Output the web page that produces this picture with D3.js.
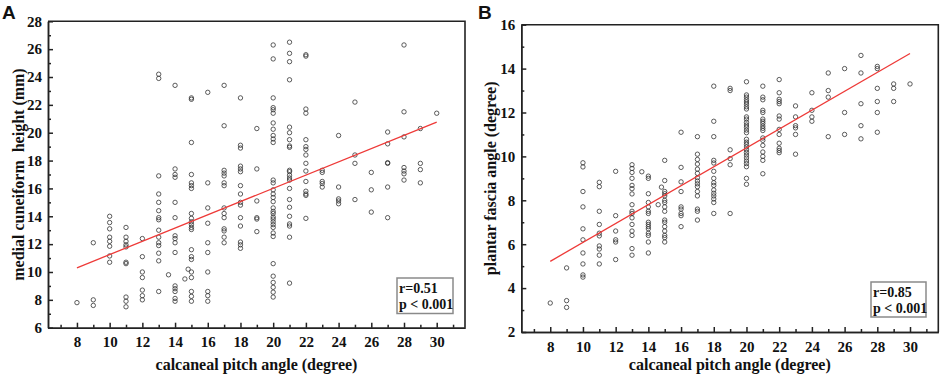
<!DOCTYPE html>
<html>

<head>
  <meta charset="utf-8" />
  <title>Pitch angle scatter</title>
  <style>
    body {
      margin: 0;
      background: #fff;
    }

    .dot {
      fill: none;
      stroke: #333;
      stroke-width: 0.8px;
    }

    .fit {
      stroke: #ee3a38;
      stroke-width: 1.3px;
      fill: none;
    }

    .axis path,
    .axis line {
      fill: none;
      stroke: #222;
      stroke-width: 1.5px;
    }

    .axis text {
      font-family: "Liberation Serif", "Times New Roman", serif;
      font-weight: bold;
      font-size: 15px;
      fill: #111;
    }

    .title {
      font-family: "Liberation Serif", "Times New Roman", serif;
      font-weight: bold;
      font-size: 16px;
      fill: #111;
    }

    .stat {
      font-family: "Liberation Serif", "Times New Roman", serif;
      font-weight: bold;
      font-size: 14px;
      fill: #111;
    }

    .letter {
      font-family: "Liberation Sans", Arial, sans-serif;
      font-weight: bold;
      font-size: 19px;
      fill: #111;
    }
  </style>
  <script src="https://cdnjs.cloudflare.com/ajax/libs/d3/7.8.5/d3.min.js"></script>
</head>

<body>
  <div id="chartArea"></div>
  <script>
    // panel A: calcaneal pitch angle vs medial cuneiform height
    var pitchA = [8, 9, 10, 11, 12, 13, 13.6, 14, 14.6, 14.8, 15, 16, 17, 18, 19, 20, 21, 22, 23, 24, 25, 26, 27, 28, 29, 30];
    var heightA = [
      [7.8],
      [12.1, 8.0, 7.6],
      [14.0, 13.55, 13.1, 12.5, 12.2, 11.85, 11.15, 10.7],
      [13.2, 12.5, 12.2, 11.95, 11.8, 10.7, 10.6, 8.2, 7.9, 7.5],
      [12.4, 11.1, 10.0, 9.6, 8.7, 8.3, 8.0],
      [24.2, 23.9, 16.9, 15.6, 15.0, 14.4, 13.9, 13.75, 13.0, 12.5, 12.1, 11.9, 11.35, 10.8, 8.6],
      [9.8],
      [23.4, 17.4, 17.0, 16.8, 15.0, 13.9, 12.6, 12.4, 12.1, 11.4, 9.0, 8.8, 8.6, 8.1, 7.9],
      [9.5],
      [10.2],
      [22.5, 22.4, 19.3, 17.0, 16.4, 16.2, 16.0, 14.2, 13.85, 13.6, 13.4, 13.2, 13.05, 11.6, 11.1, 10.9, 10.0, 9.6, 8.6, 8.25, 7.9],
      [22.9, 16.4, 14.6, 13.5, 12.1, 11.4, 10.0, 8.6, 8.3, 7.9],
      [23.4, 20.5, 17.3, 17.1, 16.9, 16.4, 16.2, 14.6, 14.2, 13.9, 13.1, 12.95, 12.5, 12.1],
      [22.5, 19.1, 18.9, 17.6, 17.4, 17.2, 16.2, 15.6, 15.0, 14.8, 13.9, 13.3, 12.15, 11.95, 11.7],
      [20.3, 17.4, 15.1, 13.9, 13.8, 12.9],
      [26.3, 25.3, 22.5, 21.8, 21.65, 21.4, 20.7, 20.25, 19.8, 19.55, 19.3, 16.6, 16.4, 15.9, 15.6, 15.35, 15.05, 14.6, 14.35, 14.2, 13.95, 13.8, 13.6, 13.4, 13.2, 12.8, 12.55, 10.6, 9.7, 9.25, 8.9, 8.55, 8.2],
      [26.5, 25.7, 25.1, 23.8, 20.4, 20.0, 19.5, 19.05, 18.95, 17.3, 17.2, 16.95, 16.75, 16.6, 16.0, 15.2, 14.65, 14.0, 13.45, 13.3, 12.5, 9.2],
      [25.6, 25.5, 21.7, 21.4, 19.5, 19.0, 18.8, 18.4, 17.8, 17.25, 16.5, 15.8, 15.6, 15.5, 13.85],
      [17.3, 17.15, 16.5, 16.35, 16.1],
      [19.8, 16.1, 15.25, 15.1, 14.9],
      [22.2, 18.4, 17.8, 15.2],
      [17.15, 15.9, 14.3],
      [20.05, 19.2, 17.85, 17.8, 16.1, 13.9],
      [26.3, 21.5, 19.7, 17.5, 17.25, 17.05, 16.6],
      [20.3, 17.8, 17.35, 16.4],
      [21.4]
    ];
    var fitA = [[8, 10.3], [30, 20.76]];
    var statsA = ['r=0.51', 'p < 0.001'];

    // panel B: calcaneal pitch angle vs plantar fascia angle
    var pitchB = [8, 9, 10, 11, 12, 13, 13.6, 14, 14.6, 14.8, 15, 16, 17, 18, 19, 20, 21, 22, 23, 24, 25, 26, 27, 28, 29, 30];
    var fasciaB = [
      [3.32],
      [4.92, 3.43, 3.12],
      [9.71, 9.52, 8.4, 7.7, 6.7, 6.2, 5.6, 5.1, 4.6, 4.5],
      [8.82, 8.62, 7.5, 6.9, 6.5, 6.38, 5.92, 5.78, 5.5, 5.1],
      [9.32, 7.3, 6.6, 6.2, 6.1, 5.3],
      [9.62, 9.45, 9.27, 9.0, 8.68, 8.53, 8.29, 7.8, 7.5, 7.4, 7.2, 6.9, 6.6, 6.4, 5.8, 5.5],
      [9.3],
      [9.1, 9.0, 8.3, 7.9, 7.7, 7.5, 7.4, 7.0, 6.9, 6.8, 6.7, 6.5, 6.4, 6.1, 5.6],
      [7.8],
      [8.6],
      [9.82, 8.9, 8.4, 8.3, 8.2, 8.0, 7.9, 7.7, 7.5, 7.1, 7.0, 6.8, 6.6, 6.4, 6.3, 6.1],
      [11.1, 9.5, 8.84, 8.4, 7.7, 7.6, 7.4, 7.3, 6.8],
      [10.9, 10.1, 9.86, 9.65, 9.42, 9.23, 9.03, 8.88, 8.75, 8.62, 8.4, 8.2, 7.6, 7.5, 7.1],
      [13.2, 11.6, 10.9, 9.82, 9.7, 9.32, 9.0, 8.8, 8.68, 8.47, 8.32, 8.2, 8.06, 7.9, 7.4],
      [13.1, 13.0, 10.3, 9.9, 9.62, 7.4],
      [13.4, 12.8, 12.7, 12.58, 12.48, 12.38, 12.26, 12.16, 11.8, 11.7, 11.55, 11.43, 11.33, 11.2, 11.08, 10.78, 10.65, 10.55, 10.43, 10.3, 10.18, 10.06, 9.93, 9.79, 9.67, 9.53, 9.0, 8.73],
      [13.2, 12.7, 12.58, 12.1, 12.0, 11.7, 11.6, 11.5, 11.38, 11.28, 11.18, 10.84, 10.73, 10.5, 10.2, 10.0, 9.82, 9.21],
      [13.5, 12.9, 12.6, 12.5, 12.4, 11.84, 11.7, 11.23, 11.0, 10.6, 10.37, 10.27, 10.17],
      [12.3, 11.8, 11.4, 11.3, 11.0, 10.1],
      [12.9, 12.1, 11.8, 11.6],
      [13.8, 13.0, 12.7, 10.9],
      [14.0, 12.0, 11.0],
      [14.6, 13.8, 12.4, 11.4, 10.8],
      [14.1, 14.0, 13.1, 12.5, 12.0, 11.1],
      [13.3, 13.1, 12.5],
      [13.3]
    ];
    var fitB = [[8, 5.22], [30, 14.69]];
    var statsB = ['r=0.85', 'p < 0.001'];

    var xTicks = d3.range(8, 31, 2);
    var xMinor = d3.range(7, 32, 2);

    var svg = d3.select('#chartArea').append('svg')
      .attr('width', 941)
      .attr('height', 379);

    function drawPanel(p) {
      var w = p.right - p.left,
        h = p.bottom - p.top;
      var g = svg.append('g')
        .attr('transform', 'translate(' + p.left + ',' + p.top + ')');

      var xScale = d3.scaleLinear().domain([6.23, 31.73]).range([0, w]);
      var yScale = d3.scaleLinear().domain(p.yDomain).range([h, 0]);

      // minor ticks first so the major axis sits on top
      var xAxisMinor = d3.axisBottom(xScale).tickValues(xMinor).tickSizeInner(-3).tickSizeOuter(0).tickFormat('');
      var yAxisMinor = d3.axisLeft(yScale).tickValues(p.yMinor).tickSizeInner(-3).tickSizeOuter(0).tickFormat('');
      g.append('g').attr('class', 'axis').attr('transform', 'translate(0,' + h + ')').call(xAxisMinor);
      g.append('g').attr('class', 'axis').call(yAxisMinor);

      var xAxis = d3.axisBottom(xScale).tickValues(xTicks).tickSizeInner(-5).tickSizeOuter(0).tickPadding(9);
      var yAxis = d3.axisLeft(yScale).tickValues(p.yTicks).tickSizeInner(-5).tickSizeOuter(0).tickPadding(6);
      g.append('g').attr('class', 'axis').attr('transform', 'translate(0,' + h + ')').call(xAxis);
      g.append('g').attr('class', 'axis').call(yAxis);

      // top and right frame
      g.append('path')
        .attr('d', 'M0,0H' + w + 'V' + h)
        .attr('fill', 'none')
        .attr('stroke', '#222')
        .attr('stroke-width', 1.6);

      var points = p.xs.flatMap((x, i) => p.ys[i].map(y => ({ x: x, y: y })));
      g.selectAll('circle')
        .data(points)
        .enter()
        .append('circle')
        .attr('class', 'dot')
        .attr('cx', d => xScale(d.x))
        .attr('cy', d => yScale(d.y))
        .attr('r', 2.2);

      g.append('path')
        .datum(p.fit)
        .attr('class', 'fit')
        .attr('d', d3.line().x(d => xScale(d[0])).y(d => yScale(d[1])));

      // stats box
      g.append('rect')
        .attr('x', p.box[0] - p.left)
        .attr('y', p.box[1] - p.top)
        .attr('width', p.box[2])
        .attr('height', p.box[3])
        .attr('fill', '#fff')
        .attr('stroke', '#8a8a8a')
        .attr('stroke-width', 1.5);
      g.selectAll('.stat')
        .data(p.stats)
        .enter()
        .append('text')
        .attr('class', 'stat')
        .attr('x', p.box[0] - p.left + 2)
        .attr('y', (d, i) => p.box[1] - p.top + 15 + i * 16)
        .text(d => d);

      svg.append('text')
        .attr('class', 'title')
        .attr('x', p.left + w / 2)
        .attr('y', 370)
        .attr('text-anchor', 'middle')
        .text('calcaneal pitch angle (degree)');

      svg.append('text')
        .attr('class', 'title')
        .attr('xml:space', 'preserve')
        .style('white-space', 'pre')
        .attr('text-anchor', 'middle')
        .attr('transform', 'translate(' + p.yTitleX + ',' + (p.top + h / 2) + ') rotate(-90)')
        .text(p.yTitle);

      svg.append('text')
        .attr('class', 'letter')
        .attr('x', p.letterX)
        .attr('y', 19)
        .text(p.letter);
    }

    drawPanel({
      left: 48, right: 465, top: 21.3, bottom: 327.7,
      yDomain: [6, 28], yTicks: d3.range(6, 29, 2), yMinor: d3.range(7, 28, 2),
      xs: pitchA, ys: heightA, fit: fitA, stats: statsA,
      box: [397, 278, 56, 35.5],
      yTitle: 'medial cuneiform  height (mm)', yTitleX: 24,
      letter: 'A', letterX: 2
    });

    drawPanel({
      left: 521.3, right: 938.3, top: 24.7, bottom: 332,
      yDomain: [2, 16], yTicks: d3.range(2, 17, 2), yMinor: d3.range(3, 16, 2),
      xs: pitchB, ys: fasciaB, fit: fitB, stats: statsB,
      box: [871, 282, 55, 35],
      yTitle: 'plantar fascia angle (degree)', yTitleX: 496,
      letter: 'B', letterX: 478
    });
  </script>
</body>

</html>
